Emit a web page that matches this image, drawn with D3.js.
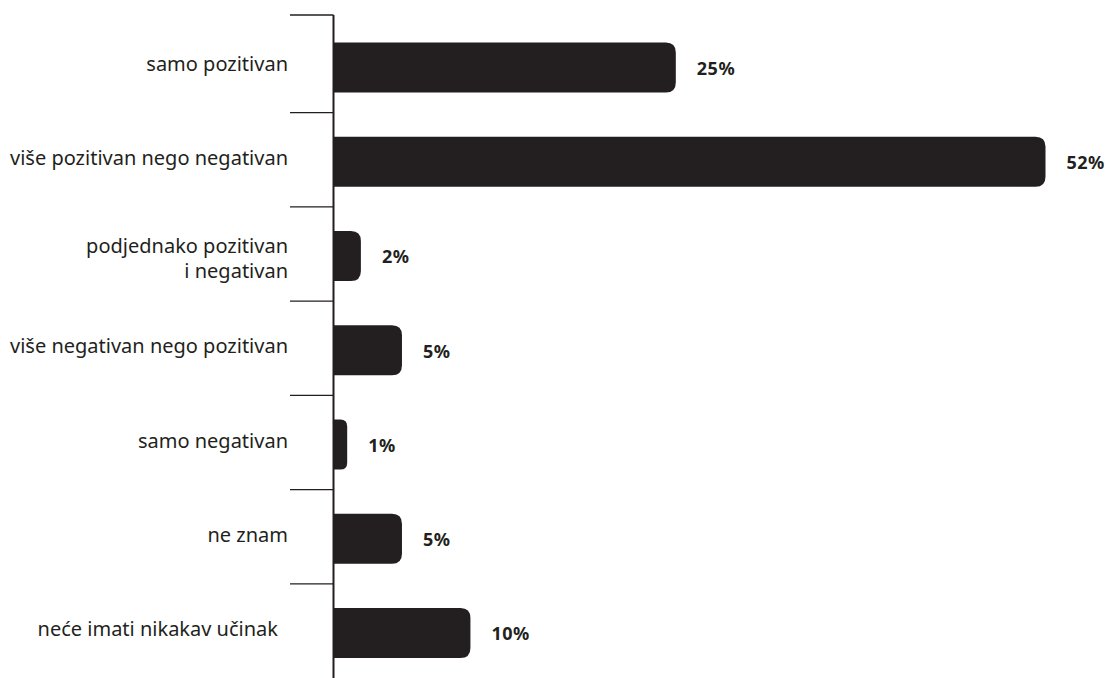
<!DOCTYPE html>
<html>
<head>
<meta charset="utf-8">
<script src="https://cdn.jsdelivr.net/npm/d3@7"></script>
<style>
  html, body { margin: 0; padding: 0; background: #ffffff; }
  svg { display: block; }
</style>
</head>
<body>
<svg id="chart" width="1113" height="678"></svg>
<script>
// Answers shown as horizontal bars, one row per category (percent of respondents)
const categories = [
  "samo pozitivan",
  "više pozitivan nego negativan",
  "podjednako pozitivan\ni negativan",
  "više negativan nego pozitivan",
  "samo negativan",
  "ne znam",
  "neće imati nikakav učinak"
];
const values = [25, 52, 2, 5, 1, 5, 10];
const valueLabels = ["25%", "52%", "2%", "5%", "1%", "5%", "10%"];

const ink = "#231f20";
const svg = d3.select("#chart");

const axisX = 333.5;
const y = d3.scaleBand()
  .domain(categories)
  .range([18.4, 18.4 + 94.26 * categories.length])
  .paddingInner(0)
  .paddingOuter(0);

const x = d3.scaleLinear().domain([0, 52]).range([axisX, axisX + 712]);

const barH = 50;
const r = 10;

// bar with square left edge and rounded right corners
function barPath(x0, x1, yc) {
  const top = yc - barH / 2, bot = yc + barH / 2;
  const rr = Math.min(r, (x1 - x0) / 2);
  return `M${x0},${top}H${x1 - rr}Q${x1},${top} ${x1},${top + rr}` +
         `V${bot - rr}Q${x1},${bot} ${x1 - rr},${bot}H${x0}Z`;
}

const rows = categories.map((c, i) => ({ c, v: values[i], label: valueLabels[i] }));

svg.append("g").selectAll("path")
  .data(rows)
  .join("path")
  .attr("d", d => barPath(axisX, x(d.v), y(d.c) + y.bandwidth() / 2 + 2))
  .attr("fill", ink);

// value labels
svg.append("g").selectAll("text")
  .data(rows)
  .join("text")
  .attr("x", d => x(d.v) + 21)
  .attr("y", d => y(d.c) + y.bandwidth() / 2 + 3)
  .attr("dy", "0.35em")
  .attr("font-family", "'Noto Sans', sans-serif")
  .attr("font-weight", 700)
  .attr("font-size", 18)
  .attr("letter-spacing", 0.5)
  .attr("fill", ink)
  .text(d => d.label);

// category axis: vertical rule and separators between rows
const axis = svg.append("g");
axis.append("line")
  .attr("x1", axisX).attr("x2", axisX)
  .attr("y1", 15).attr("y2", 678)
  .attr("stroke", ink).attr("stroke-width", 2);

const ticks = categories.map(c => y(c));
ticks[0] = 15;
axis.selectAll("line.tick")
  .data(ticks)
  .join("line")
  .attr("class", "tick")
  .attr("x1", 290).attr("x2", axisX)
  .attr("y1", d => d).attr("y2", d => d)
  .attr("stroke", ink).attr("stroke-width", 1.3);

// category names, right-aligned left of the rule
const labelG = svg.append("g")
  .attr("font-family", "'Noto Sans', sans-serif")
  .attr("font-size", 20)
  .attr("fill", ink)
  .attr("text-anchor", "end");

rows.forEach((d, i) => {
  const lines = d.c.split("\n");
  const yc = y(d.c) + y.bandwidth() / 2 + (lines.length > 1 ? 4 : -2);
  const lh = 25;
  const lx = i === categories.length - 1 ? 278 : 288;
  const t = labelG.append("text")
    .attr("x", lx)
    .attr("y", yc - (lines.length - 1) * lh / 2);
  lines.forEach((ln, k) => {
    t.append("tspan")
      .attr("x", lx)
      .attr("dy", k === 0 ? "0.35em" : lh)
      .text(ln);
  });
});
</script>
</body>
</html>
